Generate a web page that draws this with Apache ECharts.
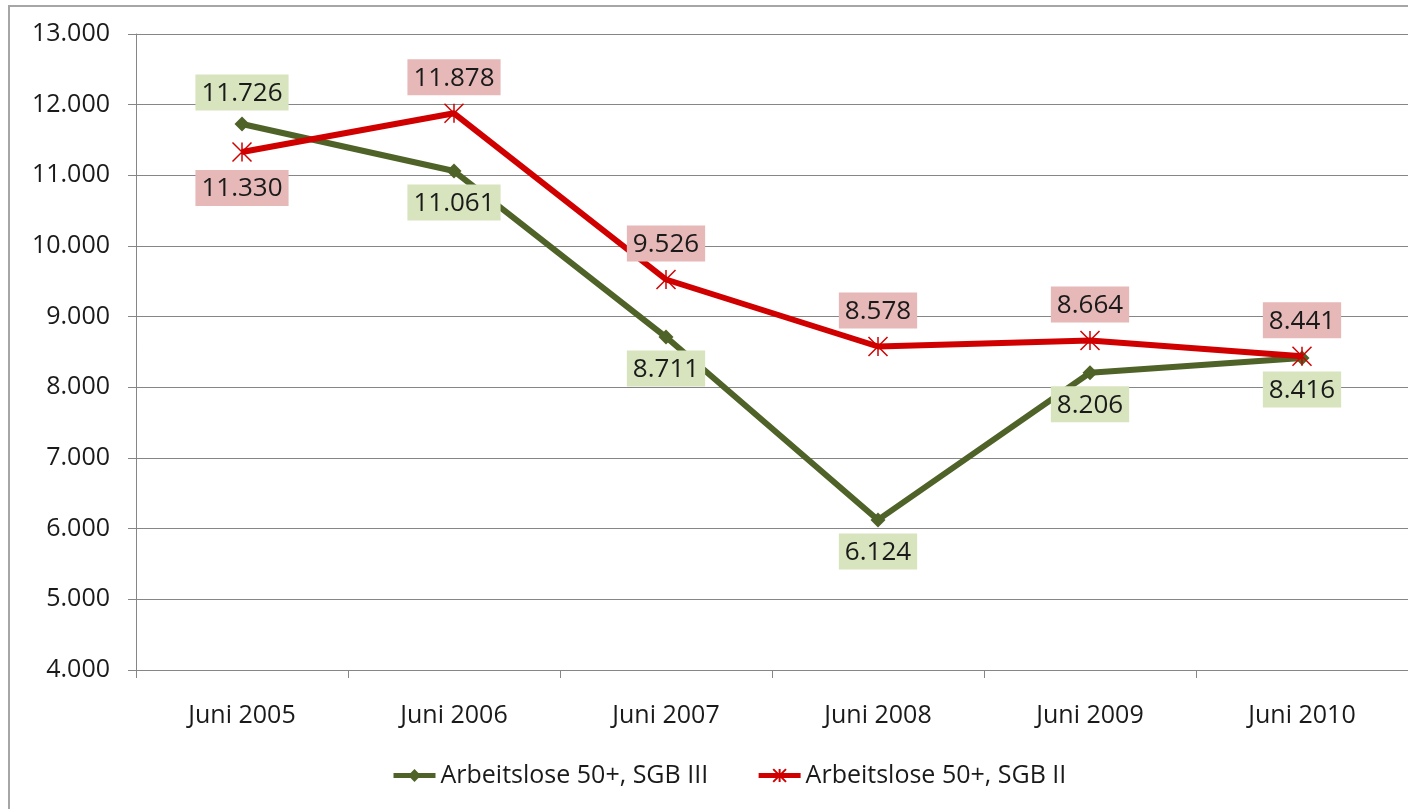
<!DOCTYPE html>
<html>
<head>
<meta charset="utf-8">
<script src="https://cdn.jsdelivr.net/npm/echarts@6/dist/echarts.min.js"></script>
<style>
  html, body { margin: 0; padding: 0; background: #fff; }
  #chart { width: 1408px; height: 809px; }
</style>
</head>
<body>
<div id="chart"></div>
<script>
const categories = ['Juni 2005', 'Juni 2006', 'Juni 2007', 'Juni 2008', 'Juni 2009', 'Juni 2010'];
const sgb3 = [11726, 11061, 8711, 6124, 8206, 8416];
const sgb2 = [11330, 11878, 9526, 8578, 8664, 8441];
const sgb3Pos = ['top', 'bottom', 'bottom', 'bottom', 'bottom', 'bottom'];
const sgb2Pos = ['bottom', 'top', 'top', 'top', 'top', 'top'];

const FONT = '"Open Sans", sans-serif';
const GREEN = '#4f6228';
const RED = '#d00000';

// 11726 -> "11.726"
function fmt(v) {
  const k = Math.floor(v / 1000);
  const r = String(v % 1000).padStart(3, '0');
  return k + '.' + r;
}

function labelled(values, positions, bg) {
  return values.map((v, i) => ({
    value: v,
    label: { position: positions[i], backgroundColor: bg }
  }));
}

const chart = echarts.init(document.getElementById('chart'));
chart.setOption({
  animation: false,
  textStyle: { fontFamily: FONT },
  graphic: [{
    type: 'rect',
    shape: { x: 9, y: 6, width: 1500, height: 900 },
    style: { fill: 'none', stroke: '#a6a6a6', lineWidth: 2 },
    z: -1
  }],
  grid: { left: 136, top: 34, right: -3, bottom: 139 },
  legend: {
    top: 758,
    left: 386,
    itemGap: 48,
    itemWidth: 42,
    itemHeight: 16,
    lineStyle: { width: 5 },
    textStyle: { fontFamily: FONT, fontSize: 25, color: '#1a1a1a' },
    data: ['Arbeitslose 50+, SGB III', 'Arbeitslose 50+, SGB II']
  },
  xAxis: {
    type: 'category',
    data: categories,
    axisLine: { lineStyle: { color: '#868686', width: 1 } },
    axisTick: { show: true, length: 8, lineStyle: { color: '#868686' } },
    axisLabel: { fontFamily: FONT, fontSize: 25, color: '#1a1a1a', margin: 33 }
  },
  yAxis: {
    type: 'value',
    min: 4000,
    max: 13000,
    interval: 1000,
    axisLine: { show: true, lineStyle: { color: '#868686', width: 1 } },
    axisTick: { show: true, length: 8, lineStyle: { color: '#868686' } },
    splitLine: { lineStyle: { color: '#868686', width: 1 } },
    axisLabel: { fontFamily: FONT, fontSize: 25, color: '#1a1a1a', margin: 26, formatter: fmt }
  },
  series: [
    {
      name: 'Arbeitslose 50+, SGB III',
      type: 'line',
      data: labelled(sgb3, sgb3Pos, '#d7e4bd'),
      symbol: 'diamond',
      symbolSize: 15,
      itemStyle: { color: GREEN },
      lineStyle: { color: GREEN, width: 6 },
      label: {
        show: true,
        fontFamily: FONT,
        fontSize: 26,
        color: '#1a1a1a',
        padding: [6, 6, 4, 6],
        distance: 6,
        formatter: p => fmt(p.value)
      },
      z: 2
    },
    {
      name: 'Arbeitslose 50+, SGB II',
      type: 'line',
      data: labelled(sgb2, sgb2Pos, '#e6b9b8'),
      symbol: 'path://M0,0L10,10M10,0L0,10M5,0L5,10',
      symbolSize: 19,
      itemStyle: { color: 'none', borderColor: RED, borderWidth: 1.5 },
      lineStyle: { color: RED, width: 6 },
      label: {
        show: true,
        fontFamily: FONT,
        fontSize: 26,
        color: '#1a1a1a',
        padding: [6, 6, 4, 6],
        distance: 6,
        formatter: p => fmt(p.value)
      },
      z: 3
    }
  ]
});
</script>
</body>
</html>
